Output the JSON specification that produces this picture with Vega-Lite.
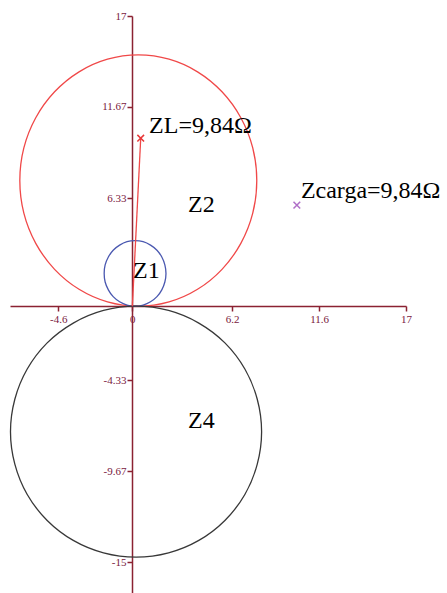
{
  "$schema": "https://vega.github.io/schema/vega-lite/v6.json",
  "width": 396,
  "height": 577,
  "autosize": {"type": "none"},
  "padding": {"left": 10, "top": 16, "right": 41, "bottom": 0},
  "background": "white",
  "config": {"view": {"stroke": null}},
  "datasets": {
    "curves": [
      {"curve": "Z2", "i": 0, "x": 7.73, "y": 7.36}, {"curve": "Z2", "i": 1, "x": 7.48, "y": 9.27},
      {"curve": "Z2", "i": 2, "x": 6.74, "y": 11.04}, {"curve": "Z2", "i": 3, "x": 5.57, "y": 12.56},
      {"curve": "Z2", "i": 4, "x": 4.05, "y": 13.73}, {"curve": "Z2", "i": 5, "x": 2.28, "y": 14.47},
      {"curve": "Z2", "i": 6, "x": 0.37, "y": 14.72}, {"curve": "Z2", "i": 7, "x": -1.54, "y": 14.47},
      {"curve": "Z2", "i": 8, "x": -3.31, "y": 13.73}, {"curve": "Z2", "i": 9, "x": -4.83, "y": 12.56},
      {"curve": "Z2", "i": 10, "x": -6.0, "y": 11.04}, {"curve": "Z2", "i": 11, "x": -6.74, "y": 9.27},
      {"curve": "Z2", "i": 12, "x": -6.99, "y": 7.36}, {"curve": "Z2", "i": 13, "x": -6.74, "y": 5.45},
      {"curve": "Z2", "i": 14, "x": -6.0, "y": 3.68}, {"curve": "Z2", "i": 15, "x": -4.83, "y": 2.16},
      {"curve": "Z2", "i": 16, "x": -3.31, "y": 0.99}, {"curve": "Z2", "i": 17, "x": -1.54, "y": 0.25},
      {"curve": "Z2", "i": 18, "x": 0.37, "y": 0.0}, {"curve": "Z2", "i": 19, "x": 2.28, "y": 0.25},
      {"curve": "Z2", "i": 20, "x": 4.05, "y": 0.99}, {"curve": "Z2", "i": 21, "x": 5.57, "y": 2.16},
      {"curve": "Z2", "i": 22, "x": 6.74, "y": 3.68}, {"curve": "Z2", "i": 23, "x": 7.48, "y": 5.45},
      {"curve": "Z1", "i": 0, "x": 2.09, "y": 1.92}, {"curve": "Z1", "i": 1, "x": 2.02, "y": 2.42},
      {"curve": "Z1", "i": 2, "x": 1.83, "y": 2.88}, {"curve": "Z1", "i": 3, "x": 1.53, "y": 3.28},
      {"curve": "Z1", "i": 4, "x": 1.13, "y": 3.58}, {"curve": "Z1", "i": 5, "x": 0.67, "y": 3.78},
      {"curve": "Z1", "i": 6, "x": 0.17, "y": 3.84}, {"curve": "Z1", "i": 7, "x": -0.33, "y": 3.78},
      {"curve": "Z1", "i": 8, "x": -0.79, "y": 3.58}, {"curve": "Z1", "i": 9, "x": -1.19, "y": 3.28},
      {"curve": "Z1", "i": 10, "x": -1.49, "y": 2.88}, {"curve": "Z1", "i": 11, "x": -1.69, "y": 2.42},
      {"curve": "Z1", "i": 12, "x": -1.75, "y": 1.92}, {"curve": "Z1", "i": 13, "x": -1.69, "y": 1.42},
      {"curve": "Z1", "i": 14, "x": -1.49, "y": 0.96}, {"curve": "Z1", "i": 15, "x": -1.19, "y": 0.56},
      {"curve": "Z1", "i": 16, "x": -0.79, "y": 0.26}, {"curve": "Z1", "i": 17, "x": -0.33, "y": 0.07},
      {"curve": "Z1", "i": 18, "x": 0.17, "y": 0.0}, {"curve": "Z1", "i": 19, "x": 0.67, "y": 0.07},
      {"curve": "Z1", "i": 20, "x": 1.13, "y": 0.26}, {"curve": "Z1", "i": 21, "x": 1.53, "y": 0.56},
      {"curve": "Z1", "i": 22, "x": 1.83, "y": 0.96}, {"curve": "Z1", "i": 23, "x": 2.02, "y": 1.42},
      {"curve": "Z4", "i": 0, "x": 8.03, "y": -7.35}, {"curve": "Z4", "i": 1, "x": 7.76, "y": -5.45},
      {"curve": "Z4", "i": 2, "x": 6.99, "y": -3.68}, {"curve": "Z4", "i": 3, "x": 5.75, "y": -2.15},
      {"curve": "Z4", "i": 4, "x": 4.13, "y": -0.99}, {"curve": "Z4", "i": 5, "x": 2.25, "y": -0.25},
      {"curve": "Z4", "i": 6, "x": 0.23, "y": 0.0}, {"curve": "Z4", "i": 7, "x": -1.79, "y": -0.25},
      {"curve": "Z4", "i": 8, "x": -3.67, "y": -0.99}, {"curve": "Z4", "i": 9, "x": -5.29, "y": -2.15},
      {"curve": "Z4", "i": 10, "x": -6.53, "y": -3.68}, {"curve": "Z4", "i": 11, "x": -7.3, "y": -5.45},
      {"curve": "Z4", "i": 12, "x": -7.57, "y": -7.35}, {"curve": "Z4", "i": 13, "x": -7.3, "y": -9.25},
      {"curve": "Z4", "i": 14, "x": -6.53, "y": -11.03}, {"curve": "Z4", "i": 15, "x": -5.29, "y": -12.55},
      {"curve": "Z4", "i": 16, "x": -3.67, "y": -13.72}, {"curve": "Z4", "i": 17, "x": -1.79, "y": -14.45},
      {"curve": "Z4", "i": 18, "x": 0.23, "y": -14.7}, {"curve": "Z4", "i": 19, "x": 2.25, "y": -14.45},
      {"curve": "Z4", "i": 20, "x": 4.13, "y": -13.72}, {"curve": "Z4", "i": 21, "x": 5.75, "y": -12.55},
      {"curve": "Z4", "i": 22, "x": 6.99, "y": -11.03}, {"curve": "Z4", "i": 23, "x": 7.76, "y": -9.25}
    ],
    "segment": [
      {"i": 0, "x": 0, "y": 0},
      {"i": 1, "x": 0.52, "y": 9.84}
    ],
    "markers": [
      {"name": "ZL", "x": 0.52, "y": 9.84},
      {"name": "Zcarga", "x": 10.22, "y": 5.92}
    ],
    "labels": [
      {"text": "ZL=9,84Ω", "x": 1.04, "y": 10.13},
      {"text": "Z2", "x": 3.46, "y": 5.52},
      {"text": "Z1", "x": 0.04, "y": 1.64},
      {"text": "Z4", "x": 3.46, "y": -7.15},
      {"text": "Zcarga=9,84Ω", "x": 10.47, "y": 6.31}
    ]
  },
  "encoding": {
    "x": {
      "field": "x", "type": "quantitative",
      "scale": {"domain": [-7.6, 17], "zero": false, "nice": false},
      "axis": {
        "orient": "bottom", "offset": -287, "title": null, "grid": false,
        "values": [-4.6, 0, 6.2, 11.6, 17],
        "labelExpr": "'' + datum.value",
        "domainColor": "#8b2232", "domainWidth": 1.5,
        "tickColor": "#8b2232", "tickSize": 5, "tickWidth": 1.5,
        "labelColor": "#7a2040", "labelFont": "Liberation Serif", "labelFontSize": 11,
        "labelPadding": 2, "labelFlush": false
      }
    },
    "y": {
      "field": "y", "type": "quantitative",
      "scale": {"domain": [-16.8, 17], "zero": false, "nice": false},
      "axis": {
        "orient": "left", "offset": -122, "title": null, "grid": false,
        "values": [17, 11.67, 6.33, -4.33, -9.67, -15],
        "labelExpr": "'' + datum.value",
        "domainColor": "#8b2232", "domainWidth": 1.5,
        "tickColor": "#8b2232", "tickSize": 5, "tickWidth": 1.5,
        "labelColor": "#7a2040", "labelFont": "Liberation Serif", "labelFontSize": 11,
        "labelPadding": 1, "labelFlush": false
      }
    }
  },
  "layer": [
    {
      "data": {"name": "curves"},
      "mark": {"type": "line", "interpolate": "cardinal-closed", "strokeWidth": 1.3, "clip": false},
      "encoding": {
        "color": {
          "field": "curve", "type": "nominal", "legend": null,
          "scale": {"domain": ["Z2", "Z1", "Z4"], "range": ["#f04848", "#4a58b0", "#383838"]}
        },
        "order": {"field": "i", "type": "quantitative"}
      }
    },
    {
      "data": {"name": "segment"},
      "mark": {"type": "line", "color": "#f04848", "strokeWidth": 1.3},
      "encoding": {"order": {"field": "i", "type": "quantitative"}}
    },
    {
      "data": {"name": "markers"},
      "transform": [{"filter": "datum.name === 'ZL'"}],
      "mark": {"type": "point", "shape": "M-1,-1L1,1M-1,1L1,-1", "filled": false, "size": 45, "strokeWidth": 1.5, "opacity": 1, "color": "#e83838"}
    },
    {
      "data": {"name": "markers"},
      "transform": [{"filter": "datum.name === 'Zcarga'"}],
      "mark": {"type": "point", "shape": "M-1,-1L1,1M-1,1L1,-1", "filled": false, "size": 45, "strokeWidth": 1.5, "opacity": 1, "color": "#b070c8"}
    },
    {
      "data": {"name": "labels"},
      "mark": {"type": "text", "align": "left", "baseline": "alphabetic", "font": "Liberation Serif", "fontSize": 24, "color": "#000000"},
      "encoding": {"text": {"field": "text", "type": "nominal"}}
    }
  ]
}
